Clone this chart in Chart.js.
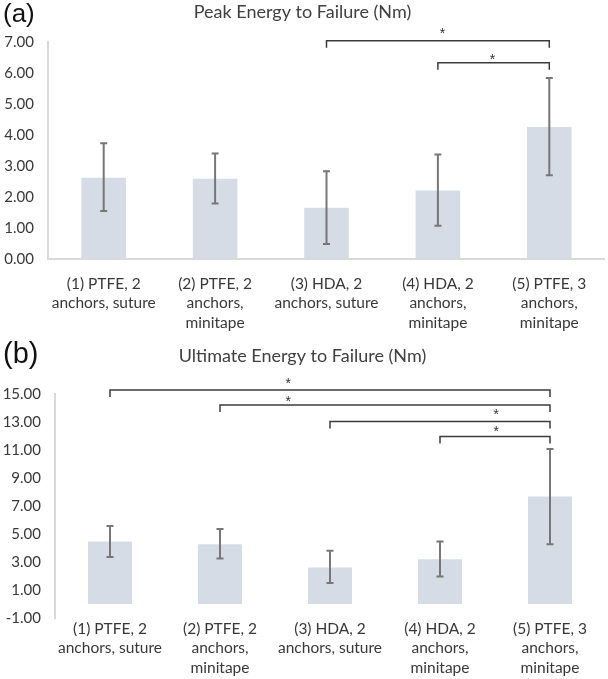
<!DOCTYPE html>
<html>
<head>
<meta charset="utf-8">
<script src="https://cdn.jsdelivr.net/npm/chart.js@4.4.1/dist/chart.umd.min.js"></script>
<style>
  html, body { margin: 0; padding: 0; background: #fff; }
  #wrap { position: relative; width: 608px; height: 679px; overflow: hidden; }
  canvas { position: absolute; left: 0; }
  #cA { top: 0; }
  #cB { top: 340px; }
  .panel { position: absolute; font-family: 'Liberation Sans', Arial, sans-serif; color: #111; line-height: 1; }
</style>
</head>
<body>
<div id="wrap">
  <canvas id="cA" width="608" height="338"></canvas>
  <canvas id="cB" width="608" height="339"></canvas>
  <div class="panel" style="left:3px; top:0px; font-size:26px;">(a)</div>
  <div class="panel" style="left:3px; top:339px; font-size:29px;">(b)</div>
</div>
<script>
/* ---- data ---- */
const groups = [
  ['(1) PTFE, 2', 'anchors, suture'],
  ['(2) PTFE, 2', 'anchors,', 'minitape'],
  ['(3) HDA, 2', 'anchors, suture'],
  ['(4) HDA, 2', 'anchors,', 'minitape'],
  ['(5) PTFE, 3', 'anchors,', 'minitape'],
];

const peakMean = [2.62, 2.59, 1.65, 2.21, 4.26];
const peakHigh = [3.73, 3.40, 2.83, 3.37, 5.84];
const peakLow  = [1.55, 1.79, 0.48, 1.07, 2.70];
// [from, to, bracket y, star x, star y]
const peakSig  = [[2, 4, 7.04, 3.04, 7.35], [3, 4, 6.33, 3.49, 6.52]];

const ultMean = [4.46, 4.27, 2.61, 3.20, 7.67];
const ultHigh = [5.58, 5.36, 3.80, 4.46, 11.08];
const ultLow  = [3.35, 3.25, 1.50, 1.97, 4.27];
const ultSig  = [
  [0, 4, 15.28, 1.62, 15.92],
  [1, 4, 14.21, 1.62, 14.62],
  [2, 4, 13.03, 3.51, 13.67],
  [3, 4, 11.96, 3.51, 12.49],
];

/* ---- shared ---- */
const TXT = '#383838';
const AXIS = '#d9d9d9';
const fmt2 = v => Number(v).toFixed(2);

// error bars + significance brackets, drawn through the chart's scales
const extras = {
  id: 'extras',
  afterDatasetsDraw(chart, args, opts) {
    const { ctx, scales: { x, y } } = chart;
    ctx.save();
    ctx.strokeStyle = '#777';
    ctx.lineWidth = 2;
    opts.high.forEach((hi, i) => {
      const px = x.getPixelForValue(i);
      const yh = y.getPixelForValue(hi), yl = y.getPixelForValue(opts.low[i]);
      ctx.beginPath();
      ctx.moveTo(px, yh); ctx.lineTo(px, yl);
      ctx.moveTo(px - 3.5, yh); ctx.lineTo(px + 3.5, yh);
      ctx.moveTo(px - 3.5, yl); ctx.lineTo(px + 3.5, yl);
      ctx.stroke();
    });
    ctx.strokeStyle = '#3c3c3c';
    ctx.lineWidth = 1.5;
    ctx.fillStyle = '#333';
    ctx.font = '14px "Liberation Sans", Arial, sans-serif';
    ctx.textAlign = 'center';
    ctx.textBaseline = 'middle';
    opts.sig.forEach(([a, b, by, sx, sy]) => {
      const x1 = x.getPixelForValue(a), x2 = x.getPixelForValue(b);
      const py = y.getPixelForValue(by);
      ctx.beginPath();
      ctx.moveTo(x1, py + 7); ctx.lineTo(x1, py); ctx.lineTo(x2, py); ctx.lineTo(x2, py + 7);
      ctx.stroke();
      ctx.fillText('*', x.getPixelForValue(sx), y.getPixelForValue(sy) + 3);
    });
    ctx.restore();
  }
};

function makeChart(id, title, mean, high, low, sig, cfg) {
  return new Chart(document.getElementById(id), {
    type: 'bar',
    data: {
      labels: groups,
      datasets: [{
        data: mean,
        backgroundColor: '#d6dce5',
        barPercentage: 0.4,
        categoryPercentage: 1,
      }],
    },
    plugins: [extras],
    options: {
      responsive: false,
      animation: false,
      layout: { padding: { left: 0, right: 3, top: 0, bottom: 0 } },
      plugins: {
        legend: { display: false },
        tooltip: { enabled: false },
        title: {
          display: true,
          text: title,
          color: '#404040',
          font: { family: 'Lato', size: 18, weight: 'normal' },
          padding: cfg.titlePad,
        },
        extras: { high, low, sig },
      },
      scales: {
        x: {
          grid: { display: false },
          border: { display: false },
          ticks: {
            color: TXT,
            padding: cfg.xPad,
            maxRotation: 0,
            font: { family: 'Lato', size: 15.5, lineHeight: 1.26 },
          },
          afterFit: s => { s.height = cfg.xH; },
        },
        y: {
          min: cfg.min, max: cfg.max,
          ticks: {
            stepSize: cfg.step,
            color: TXT,
            padding: 14,
            font: { family: 'Lato', size: 15 },
            callback: v => fmt2(v),
          },
          grid: {
            drawTicks: false,
            lineWidth: 2,
            color: c => (c.tick && c.tick.value === 0 ? AXIS : 'rgba(0,0,0,0)'),
          },
          border: { display: true, color: AXIS, width: 2 },
          afterFit: s => { s.width = cfg.yW; },
        },
      },
    },
  });
}

makeChart('cA', 'Peak Energy to Failure (Nm)', peakMean, peakHigh, peakLow, peakSig,
  { min: 0, max: 7, step: 1, yW: 48, xH: 79, xPad: 7, titlePad: { top: 1, bottom: 19.4 } });

makeChart('cB', 'Ultimate Energy to Failure (Nm)', ultMean, ultHigh, ultLow, ultSig,
  { min: -1, max: 15, step: 2, yW: 55, xH: 61, xPad: -7, titlePad: { top: 5, bottom: 27.4 } });
</script>
</body>
</html>
